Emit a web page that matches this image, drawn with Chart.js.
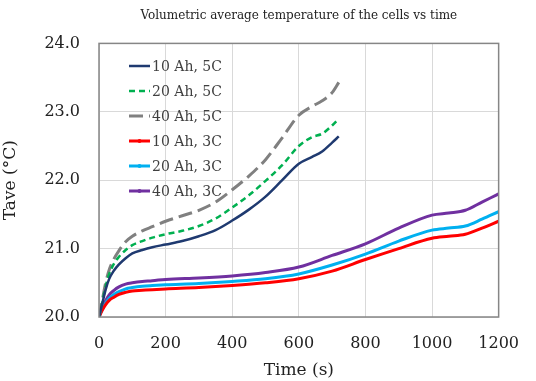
<!DOCTYPE html>
<html>
<head>
<meta charset="utf-8">
<script src="https://cdn.jsdelivr.net/npm/chart.js@4"></script>
<style>
  html, body { margin: 0; padding: 0; background: #fff; }
  #wrap { width: 536px; height: 381px; }
</style>
</head>
<body>
<div id="wrap"><canvas id="chart" width="536" height="381"></canvas></div>
<script>
// time stamps (s) for the 5C and 3C runs
const time5C = [0, 10, 20, 30, 45, 60, 80, 100, 130, 160, 200, 250, 300, 350, 400, 450, 500, 550, 600, 640, 670, 700, 720];
const time3C = [0, 10, 20, 30, 45, 60, 80, 100, 130, 160, 200, 300, 400, 500, 600, 700, 800, 900, 1000, 1050, 1100, 1150, 1200];

// volumetric average temperature (°C)
const ah10c5 = [20.0, 20.2, 20.4, 20.55, 20.68, 20.77, 20.86, 20.93, 20.98, 21.02, 21.06, 21.11, 21.18, 21.27, 21.41, 21.57, 21.76, 22.0, 22.24, 22.34, 22.42, 22.55, 22.64];
const ah20c5 = [20.0, 20.22, 20.45, 20.62, 20.78, 20.88, 20.98, 21.05, 21.11, 21.16, 21.21, 21.26, 21.33, 21.44, 21.6, 21.78, 21.99, 22.22, 22.5, 22.63, 22.68, 22.8, 22.9];
const ah40c5 = [20.0, 20.25, 20.5, 20.68, 20.85, 20.97, 21.1, 21.18, 21.26, 21.32, 21.4, 21.48, 21.56, 21.68, 21.86, 22.06, 22.3, 22.62, 22.95, 23.08, 23.16, 23.28, 23.43];
const ah10c3 = [20.0, 20.1, 20.18, 20.24, 20.29, 20.33, 20.36, 20.38, 20.39, 20.4, 20.41, 20.43, 20.46, 20.5, 20.56, 20.67, 20.84, 21.0, 21.15, 21.18, 21.21, 21.3, 21.4];
const ah20c3 = [20.0, 20.11, 20.2, 20.27, 20.33, 20.37, 20.41, 20.43, 20.45, 20.46, 20.47, 20.49, 20.52, 20.56, 20.63, 20.76, 20.92, 21.11, 21.27, 21.3, 21.33, 21.43, 21.54];
const ah40c3 = [20.0, 20.13, 20.24, 20.32, 20.39, 20.44, 20.48, 20.5, 20.52, 20.53, 20.55, 20.57, 20.6, 20.65, 20.73, 20.9, 21.07, 21.3, 21.49, 21.52, 21.56, 21.68, 21.8];

const seriesNames = ['10 Ah, 5C', '20 Ah, 5C', '40 Ah, 5C', '10 Ah, 3C', '20 Ah, 3C', '40 Ah, 3C'];
const xTicks = [0, 200, 400, 600, 800, 1000, 1200];
const yTicks = [20, 21, 22, 23, 24];

const serif = "'DejaVu Serif', serif";

function pts(ts, vs) {
  return ts.map((t, i) => ({ x: t, y: vs[i] }));
}

function series(label, ts, vs, color, width, dash, marker) {
  return {
    label: label,
    data: pts(ts, vs),
    borderColor: color,
    backgroundColor: color,
    borderWidth: width,
    borderDash: dash,
    pointRadius: 0,
    pointStyle: marker,
    fill: false,
    cubicInterpolationMode: 'monotone',
  };
}

// legend drawn inside the plot, upper left
const insideLegend = {
  id: 'insideLegend',
  afterDraw(chart) {
    const ctx = chart.ctx;
    const x0 = 129, x1 = 150, top = 66, step = 25;
    ctx.save();
    chart.data.datasets.forEach((ds, i) => {
      const y = top + i * step;
      ctx.strokeStyle = ds.borderColor;
      ctx.lineWidth = ds.borderWidth;
      ctx.setLineDash(ds.borderDash || []);
      ctx.beginPath();
      ctx.moveTo(x0, y);
      ctx.lineTo(x1, y);
      ctx.stroke();
      ctx.setLineDash([]);
      if (ds.pointStyle && ds.pointStyle !== 'line') {
        ctx.fillStyle = ds.borderColor;
        ctx.beginPath();
        ctx.arc((x0 + x1) / 2, y, 2, 0, Math.PI * 2);
        ctx.fill();
      }
      ctx.fillStyle = '#404040';
      ctx.font = "14px " + serif;
      ctx.textBaseline = 'middle';
      ctx.fillText(ds.label, x1 + 2, y + 1);
    });
    ctx.restore();
  }
};

// frame round the plot area
const plotFrame = {
  id: 'plotFrame',
  afterDatasetsDraw(chart) {
    const a = chart.chartArea;
    const ctx = chart.ctx;
    ctx.save();
    ctx.strokeStyle = '#868686';
    ctx.lineWidth = 1.5;
    ctx.strokeRect(a.left, a.top, a.right - a.left, a.bottom - a.top);
    ctx.restore();
  }
};

new Chart(document.getElementById('chart').getContext('2d'), {
  type: 'line',
  data: {
    datasets: [
      series(seriesNames[0], time5C, ah10c5, '#1F3A70', 2.5, [], 'line'),
      series(seriesNames[1], time5C, ah20c5, '#00B050', 2.5, [6, 4], 'line'),
      series(seriesNames[2], time5C, ah40c5, '#808080', 3, [14, 6], 'line'),
      series(seriesNames[3], time3C, ah10c3, '#FF0000', 3, [], 'circle'),
      series(seriesNames[4], time3C, ah20c3, '#00B0F0', 3, [], 'circle'),
      series(seriesNames[5], time3C, ah40c3, '#7030A0', 3, [], 'circle'),
    ],
  },
  options: {
    responsive: false,
    animation: false,
    layout: { padding: { right: 35 } },
    plugins: {
      legend: { display: false },
      tooltip: { enabled: false },
      title: {
        display: true,
        fullSize: false,
        text: 'Volumetric average temperature of the cells vs time',
        color: '#222',
        font: { family: serif, size: 12, weight: 'normal' },
        padding: { top: 9, bottom: 20 },
      },
    },
    scales: {
      x: {
        type: 'linear',
        min: 0,
        max: 1200,
        afterBuildTicks(scale) { scale.ticks = xTicks.map(v => ({ value: v })); },
        afterFit(scale) { scale.height = 64; },
        grid: { color: '#d9d9d9', drawTicks: false },
        border: { display: false },
        ticks: {
          color: '#222',
          padding: 17,
          font: { family: serif, size: 16 },
          maxRotation: 0,
          callback: v => String(v),
        },
        title: {
          display: true,
          text: 'Time (s)',
          color: '#222',
          font: { family: serif, size: 17 },
          padding: { top: 0, bottom: 0 },
        },
      },
      y: {
        min: 20,
        max: 24,
        afterBuildTicks(scale) { scale.ticks = yTicks.map(v => ({ value: v })); },
        afterFit(scale) { scale.width = 99; },
        grid: { color: '#d9d9d9', drawTicks: false },
        border: { display: false },
        ticks: {
          color: '#222',
          padding: 19,
          font: { family: serif, size: 16 },
          callback: v => v.toFixed(1),
        },
        title: {
          display: true,
          text: 'Tave (°C)',
          color: '#222',
          font: { family: serif, size: 17 },
          padding: { top: 0, bottom: 0 },
        },
      },
    },
  },
  plugins: [plotFrame, insideLegend],
});
</script>
</body>
</html>
